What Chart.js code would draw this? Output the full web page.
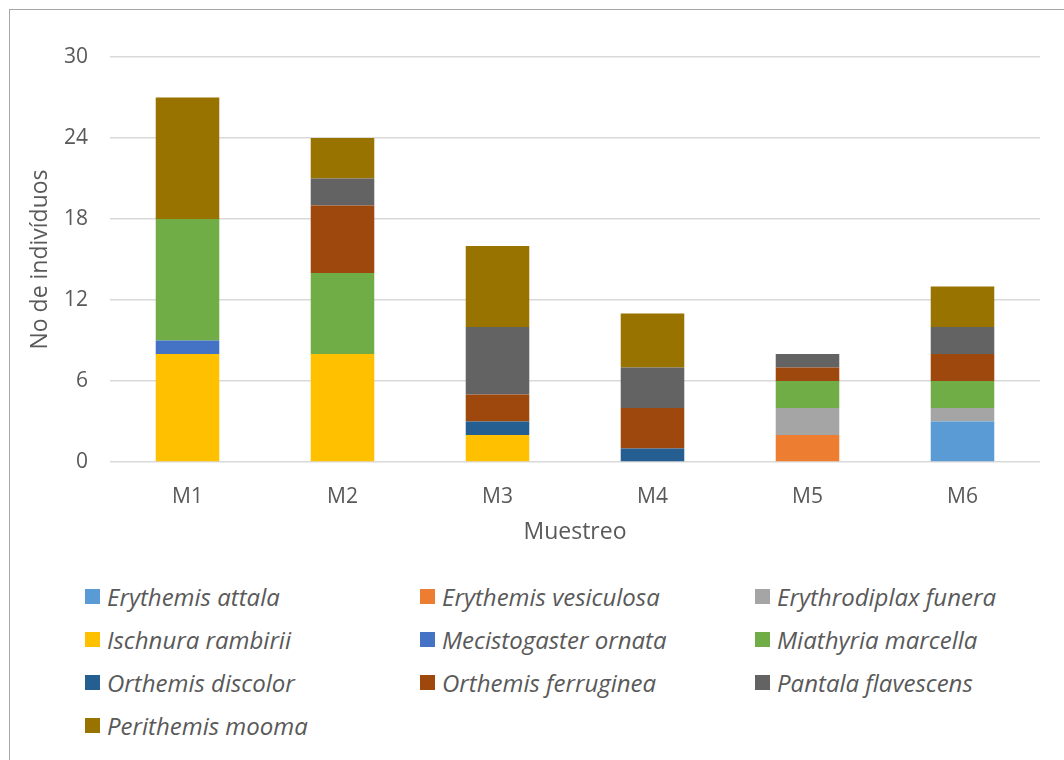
<!DOCTYPE html>
<html>
<head>
<meta charset="utf-8">
<script src="https://cdn.jsdelivr.net/npm/chart.js@4"></script>
<style>
  body { margin: 0; background: #fff; }
  #wrap { position: relative; width: 1064px; height: 760px; overflow: hidden; }
  #frame { position: absolute; left: 9px; top: 9px; width: 1070px; height: 770px; border: 1.5px solid #a6a6a6; box-sizing: border-box; }
  #chartBox { position: absolute; left: 0; top: 0; width: 1064px; height: 550px; }
  #legend { position: absolute; left: 85px; top: 575px; display: grid; grid-template-columns: 335px 335px 335px; grid-auto-rows: 43px; }
  .item { display: flex; align-items: center; font-family: "Open Sans", sans-serif; font-style: italic; font-size: 24px; color: #595959; white-space: nowrap; }
  .sw { width: 15px; height: 15px; margin-right: 7px; flex: none; }
</style>
</head>
<body>
<div id="wrap">
  <div id="frame"></div>
  <div id="chartBox"><canvas id="chart"></canvas></div>
  <div id="legend"></div>
</div>
<script>
const muestreos = ["M1", "M2", "M3", "M4", "M5", "M6"];
const especies = [
    "Erythemis attala", "Erythemis vesiculosa", "Erythrodiplax funera",
    "Ischnura rambirii", "Mecistogaster ornata", "Miathyria marcella",
    "Orthemis discolor", "Orthemis ferruginea", "Pantala flavescens",
    "Perithemis mooma"
];
const colores = [
    "#5b9bd5", "#ed7d31", "#a5a5a5",
    "#ffc000", "#4472c4", "#70ad47",
    "#255e91", "#9e480e", "#636363",
    "#997300"
];

// individuos por especie en cada muestreo (M1..M6)
const erythemisAttala     = [0, 0, 0, 0, 0, 3];
const erythemisVesiculosa = [0, 0, 0, 0, 2, 0];
const erythrodiplaxFunera = [0, 0, 0, 0, 2, 1];
const ischnuraRambirii    = [8, 8, 2, 0, 0, 0];
const mecistogasterOrnata = [1, 0, 0, 0, 0, 0];
const miathyriaMarcella   = [9, 6, 0, 0, 2, 2];
const orthemisDiscolor    = [0, 0, 1, 1, 0, 0];
const orthemisFerruginea  = [0, 5, 2, 3, 1, 2];
const pantalaFlavescens   = [0, 2, 5, 3, 1, 2];
const perithemisMooma     = [9, 3, 6, 4, 0, 3];

const yTicks = [0, 6, 12, 18, 24, 30];

const series = [
    erythemisAttala, erythemisVesiculosa, erythrodiplaxFunera,
    ischnuraRambirii, mecistogasterOrnata, miathyriaMarcella,
    orthemisDiscolor, orthemisFerruginea, pantalaFlavescens,
    perithemisMooma
];

const textColor = "#595959";
const font = "'Open Sans', sans-serif";

const datasets = series.map((vals, i) => ({
    label: especies[i],
    data: vals,
    backgroundColor: colores[i],
    borderWidth: 0,
    categoryPercentage: 0.41,
    barPercentage: 1
}));

new Chart(document.getElementById("chart"), {
    type: "bar",
    data: { labels: muestreos, datasets: datasets },
    options: {
        responsive: true,
        maintainAspectRatio: false,
        animation: false,
        layout: { padding: { left: 0, right: 24, top: 57, bottom: 0 } },
        plugins: { legend: { display: false }, tooltip: { enabled: false } },
        scales: {
            x: {
                stacked: true,
                grid: { display: false },
                border: { display: false },
                ticks: { color: textColor, font: { family: font, size: 21 }, padding: 14 },
                title: { display: true, text: "Muestreo", color: textColor, font: { family: font, size: 23 }, padding: { top: 0, bottom: 4 } },
                afterFit: (s) => { s.height = 88; }
            },
            y: {
                stacked: true,
                min: 0,
                max: 30,
                afterBuildTicks: (s) => { s.ticks = yTicks.map(v => ({ value: v })); },
                grid: { color: "#d9d9d9", lineWidth: 1.5, drawTicks: false },
                border: { display: false },
                ticks: { color: textColor, font: { family: font, size: 21 }, padding: 22 },
                title: { display: true, text: "No de indivíduos", color: textColor, font: { family: font, size: 23 }, padding: { top: 27, bottom: 0 } },
                afterFit: (s) => { s.width = 110; }
            }
        }
    }
});

const legend = document.getElementById("legend");
especies.forEach((name, i) => {
    const item = document.createElement("div");
    item.className = "item";
    const sw = document.createElement("span");
    sw.className = "sw";
    sw.style.background = colores[i];
    item.appendChild(sw);
    item.appendChild(document.createTextNode(name));
    legend.appendChild(item);
});
</script>
</body>
</html>
